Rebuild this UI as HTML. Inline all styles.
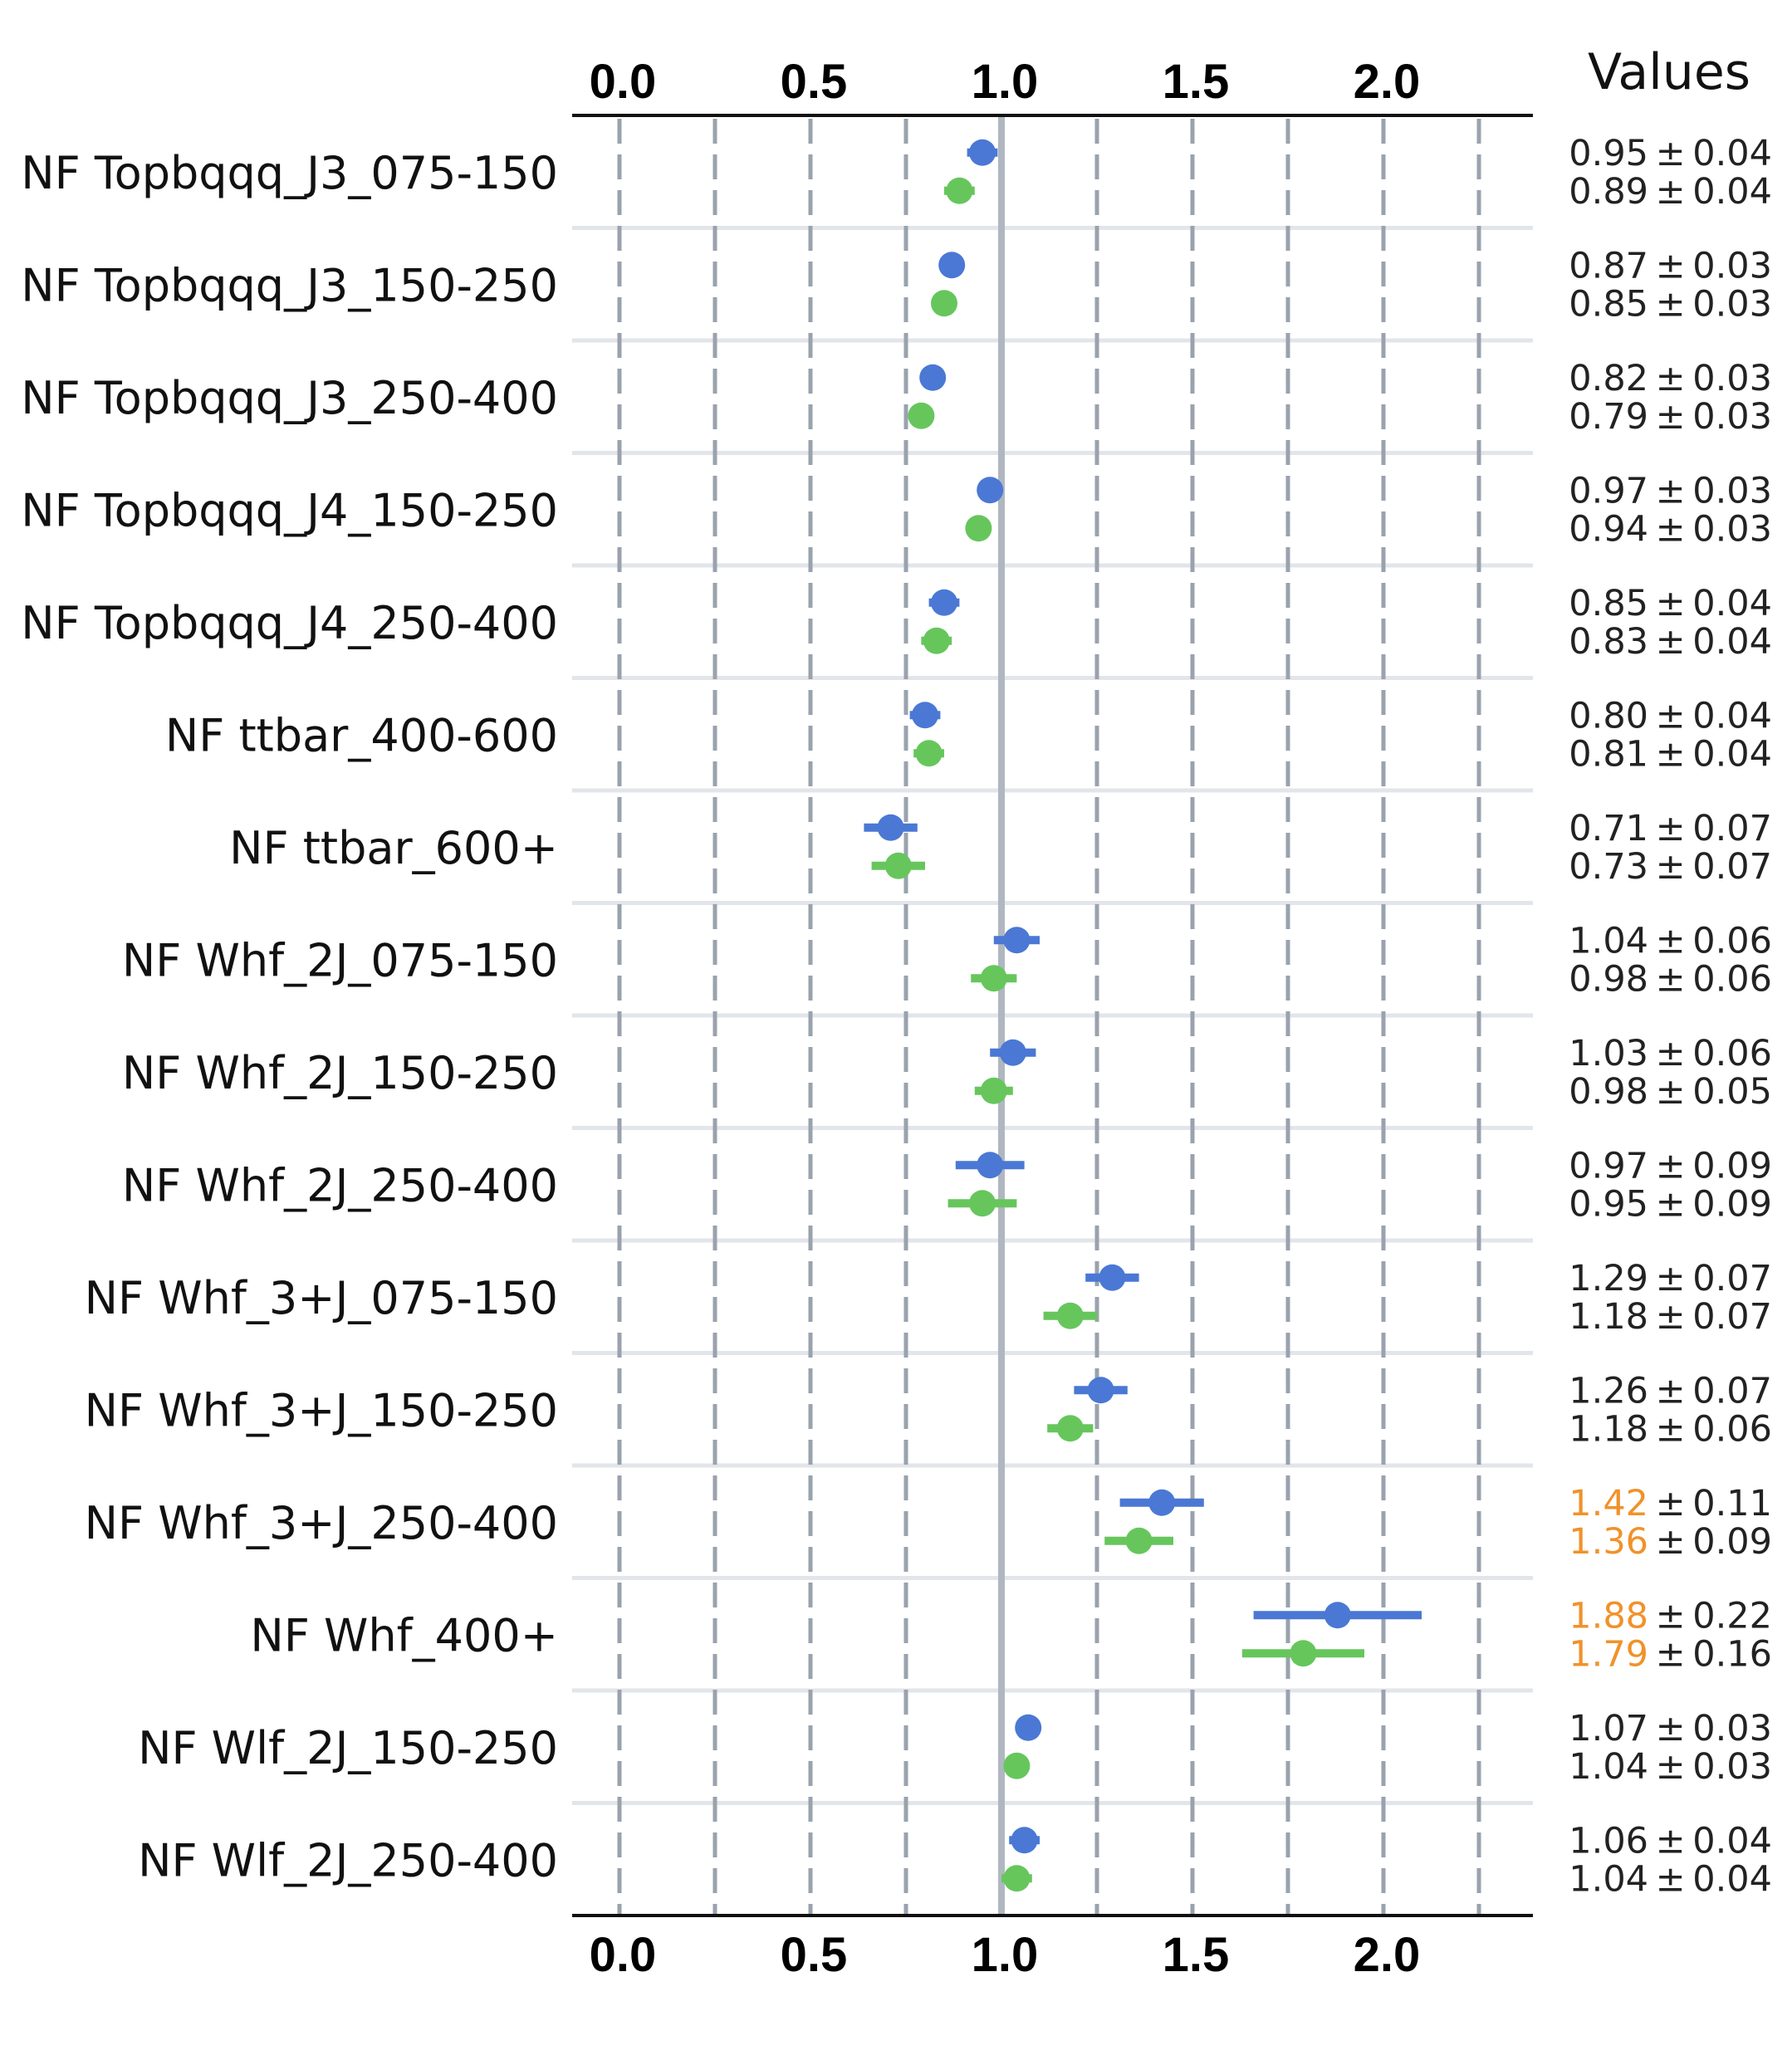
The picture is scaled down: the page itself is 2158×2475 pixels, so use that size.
<!DOCTYPE html>
<html><head><meta charset="utf-8"><style>
html,body{margin:0;padding:0;background:#fff;}
svg{display:block;}
</style></head><body>
<svg id="chart" width="2158" height="2475" viewBox="0 0 2158 2475" xmlns="http://www.w3.org/2000/svg">
<rect width="2158" height="2475" fill="#fff"/>
<g id="grid"></g><g id="marks"></g><g id="labels"></g>
</svg>
<script>
const categories = ["NF Topbqqq_J3_075-150","NF Topbqqq_J3_150-250","NF Topbqqq_J3_250-400","NF Topbqqq_J4_150-250","NF Topbqqq_J4_250-400","NF ttbar_400-600","NF ttbar_600+","NF Whf_2J_075-150","NF Whf_2J_150-250","NF Whf_2J_250-400","NF Whf_3+J_075-150","NF Whf_3+J_150-250","NF Whf_3+J_250-400","NF Whf_400+","NF Wlf_2J_150-250","NF Wlf_2J_250-400"];
const blueValues = [0.95,0.87,0.82,0.97,0.85,0.80,0.71,1.04,1.03,0.97,1.29,1.26,1.42,1.88,1.07,1.06];
const blueErrors = [0.04,0.03,0.03,0.03,0.04,0.04,0.07,0.06,0.06,0.09,0.07,0.07,0.11,0.22,0.03,0.04];
const greenValues = [0.89,0.85,0.79,0.94,0.83,0.81,0.73,0.98,0.98,0.95,1.18,1.18,1.36,1.79,1.04,1.04];
const greenErrors = [0.04,0.03,0.03,0.03,0.04,0.04,0.07,0.06,0.05,0.09,0.07,0.06,0.09,0.16,0.03,0.04];
const tickValues = [0.0,0.5,1.0,1.5,2.0];
const tickLabels = ["0.0","0.5","1.0","1.5","2.0"];
const gridValues = [0,0.25,0.5,0.75,1.25,1.5,1.75,2.0,2.25];

const NS="http://www.w3.org/2000/svg";
const X0=689, X1=1846, TOP=139, BOT=2307;
const rowH=(BOT-TOP)/categories.length;
function x(v){return 1206+(v-1)*460;}
function rowC(i){return TOP+rowH*(i+0.5);}
function mk(tag,attrs,parent){const e=document.createElementNS(NS,tag);for(const k in attrs)e.setAttribute(k,attrs[k]);parent.appendChild(e);return e;}
const grid=document.getElementById('grid'),marks=document.getElementById('marks'),labels=document.getElementById('labels');

for(let i=1;i<categories.length;i++){
  const l=mk('line',{x1:X0,x2:X1,y1:TOP+rowH*i,y2:TOP+rowH*i,stroke:'#e2e5e9','stroke-width':5},grid);
  
  
}
gridValues.forEach(v=>{
  const l=mk('line',{x1:x(v),x2:x(v),y1:TOP,y2:BOT,stroke:'#99a2ad','stroke-width':5,'stroke-dasharray':'30 13','stroke-dashoffset':'-4'},grid);
  
  
});
const ref=mk('line',{x1:x(1),x2:x(1),y1:TOP,y2:BOT,stroke:'#b0b7c0','stroke-width':8},grid);


const ta=mk('line',{x1:X0,x2:X1,y1:TOP,y2:TOP,stroke:'#111','stroke-width':4},grid);


const ba=mk('line',{x1:X0,x2:X1,y1:BOT,y2:BOT,stroke:'#111','stroke-width':4},grid);



tickValues.forEach((v,i)=>{
  [118,2374].forEach((y,j)=>{
    const t=mk('text',{x:x(v)+4,y:y,'text-anchor':'middle','font-family':'Liberation Sans, sans-serif','font-weight':'bold','font-size':58,fill:'#000'},labels);
    t.textContent=tickLabels[i];
    
    
  });
});
const vt=mk('text',{x:2010,y:107,'text-anchor':'middle','font-family':'DejaVu Sans, sans-serif','font-size':60,fill:'#111'},labels);
vt.textContent='Values';



function series(vals,errs,color,off,name){
  vals.forEach((v,i)=>{
    const cy=rowC(i)+off;
    const b=mk('line',{x1:x(v-errs[i]),x2:x(v+errs[i]),y1:cy,y2:cy,stroke:color,'stroke-width':10},marks);
    
    
    const c=mk('ellipse',{cx:x(v),cy:cy,rx:16,ry:16,fill:color},marks);
    
    
    const t=mk('text',{x:2134,y:cy+15,'text-anchor':'end','font-family':'DejaVu Sans, sans-serif','font-size':43,fill:'#222'},labels);
    
    
    const a=mk('tspan',{fill:(v>1.3||v<0.7)?'#f0922a':'#222'},t);
    a.textContent=v.toFixed(2);
    const bb=mk('tspan',{},t);
    bb.textContent='\u2009\u00b1\u2009'+errs[i].toFixed(2);
  });
}
series(blueValues,blueErrors,'#4a78d4',-23,'blue');
series(greenValues,greenErrors,'#66c65c',23,'green');

categories.forEach((c,i)=>{
  const t=mk('text',{x:672,y:rowC(i)+20,'text-anchor':'end','font-family':'DejaVu Sans, sans-serif','font-size':54,fill:'#111'},labels);
  t.textContent=c;
  
  
});
</script>
</body></html>
